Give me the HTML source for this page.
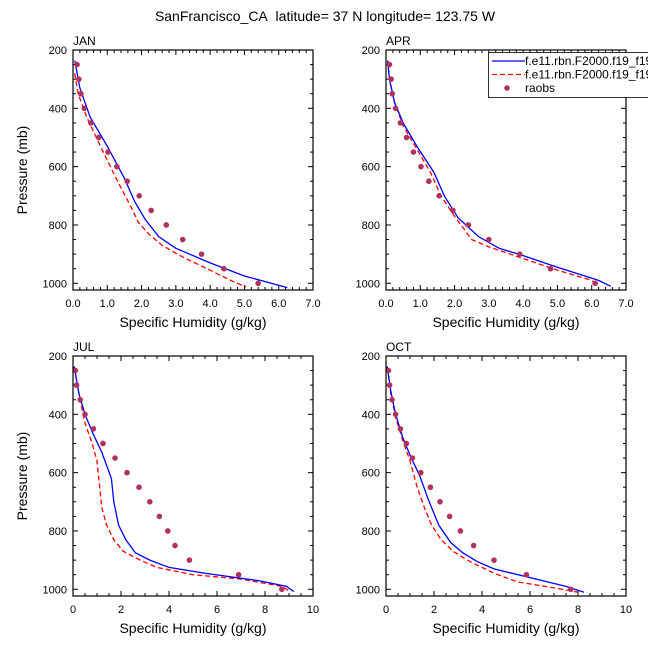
<!DOCTYPE html>
<html><head><meta charset="utf-8"><style>
html,body{margin:0;padding:0;background:#fff;}
svg{display:block;font-family:"Liberation Sans",sans-serif;}
</style></head><body>
<svg id="chart" width="648" height="649" viewBox="0 0 648 649" xmlns="http://www.w3.org/2000/svg">
<text x="325" y="21" font-size="14" text-anchor="middle">SanFrancisco_CA&#160; latitude= 37 N longitude= 123.75 W</text>
</svg>
<script>
const panelNames = ["JAN","APR","JUL","OCT"];
const raobP = [250,300,350,400,450,500,550,600,650,700,750,800,850,900,950,1000];
const janRaobQ = [0.12,0.17,0.23,0.33,0.52,0.75,1.02,1.28,1.58,1.93,2.28,2.72,3.2,3.75,4.4,5.4];
const aprRaobQ = [0.1,0.15,0.18,0.28,0.42,0.6,0.8,1.02,1.25,1.55,1.95,2.4,3.0,3.9,4.8,6.1];
const julRaobQ = [0.1,0.15,0.3,0.5,0.85,1.25,1.75,2.25,2.75,3.2,3.6,3.95,4.25,4.85,6.9,8.7];
const octRaobQ = [0.1,0.15,0.25,0.4,0.6,0.85,1.1,1.45,1.85,2.25,2.65,3.1,3.65,4.5,5.85,7.7];
const janBlueQ = [0.05,0.2,0.5,1.0,1.5,1.8,2.1,2.5,3.0,4.0,5.0,6.25];
const janBlueP = [236,330,430,530,640,720,780,840,880,930,975,1015];
const janRedQ = [0.05,0.15,0.4,0.8,1.3,1.7,1.9,2.2,2.6,3.2,4.0,4.6,5.05];
const janRedP = [280,350,430,530,650,740,790,830,870,910,955,990,1013];
const aprBlueQ = [0.05,0.1,0.25,0.5,0.9,1.4,1.7,2.1,2.7,3.3,4.0,5.0,6.2,6.55];
const aprBlueP = [236,300,380,450,530,620,700,775,840,880,905,945,990,1010];
const aprRedQ = [0.05,0.1,0.25,0.5,0.9,1.3,1.6,2.0,2.5,3.0,4.0,5.0,6.0,6.15];
const aprRedP = [236,300,380,460,540,620,700,770,850,875,915,955,990,1005];
const julBlueQ = [0.05,0.25,0.5,0.8,1.2,1.6,1.7,1.9,2.2,2.6,3.2,4.0,5.5,7.7,8.9,9.2];
const julBlueP = [236,330,400,460,530,620,700,780,830,875,900,925,945,970,990,1008];
const julRedQ = [0.05,0.25,0.5,0.8,1.0,1.1,1.2,1.4,1.7,2.1,2.8,3.5,5.0,7.0,8.7,9.0];
const julRedP = [236,330,430,500,560,640,720,780,830,870,900,925,950,965,990,1005];
const octBlueQ = [0.05,0.2,0.4,0.7,1.0,1.4,1.8,2.2,2.7,3.2,3.8,4.5,6.0,7.5,8.25];
const octBlueP = [236,320,400,480,540,610,700,780,840,875,905,930,960,990,1010];
const octRedQ = [0.05,0.2,0.4,0.7,1.0,1.3,1.6,1.9,2.3,2.8,3.5,4.5,5.5,7.0,8.0];
const octRedP = [236,330,410,490,560,650,720,780,830,870,905,945,975,995,1010];
const topXTicks = ["0.0","1.0","2.0","3.0","4.0","5.0","6.0","7.0"];
const botXTicks = ["0","2","4","6","8","10"];
const yTicks = [200,400,600,800,1000];

const NS="http://www.w3.org/2000/svg";
const svg=document.getElementById('chart');
function mk(tag,attrs,parent){const e=document.createElementNS(NS,tag);for(const k in attrs)e.setAttribute(k,attrs[k]);(parent||svg).appendChild(e);return e;}

const panels=[
 {x0:73,y0:50,xmax:7,minor:0.2,ticks:topXTicks,step:1,raob:janRaobQ,bq:janBlueQ,bp:janBlueP,rq:janRedQ,rp:janRedP,ylab:true},
 {x0:386,y0:50,xmax:7,minor:0.2,ticks:topXTicks,step:1,raob:aprRaobQ,bq:aprBlueQ,bp:aprBlueP,rq:aprRedQ,rp:aprRedP,ylab:false},
 {x0:73,y0:356,xmax:10,minor:0.5,ticks:botXTicks,step:2,raob:julRaobQ,bq:julBlueQ,bp:julBlueP,rq:julRedQ,rp:julRedP,ylab:true},
 {x0:386,y0:356,xmax:10,minor:0.5,ticks:botXTicks,step:2,raob:octRaobQ,bq:octBlueQ,bp:octBlueP,rq:octRedQ,rp:octRedP,ylab:false}
];
const W=240,H=240,PMIN=200,PMAX=1023;
panels.forEach((pn,i)=>{
  const g=mk('g',{});
  
  
  const xs=v=>pn.x0+v/pn.xmax*W;
  const ys=p=>pn.y0+(p-PMIN)/(PMAX-PMIN)*H;
  const clipId='clip'+i;
  const cp=mk('clipPath',{id:clipId},g);
  mk('rect',{x:pn.x0,y:pn.y0,width:W,height:H},cp);
  const tg=mk('g',{stroke:'#000','stroke-width':1},g);
  for(let v=0;v<=pn.xmax+1e-6;v+=pn.minor){
    const maj=Math.abs(v/pn.step-Math.round(v/pn.step))<1e-6;
    const L=maj?5:3,x=xs(v);
    mk('line',{x1:x,y1:pn.y0+H,x2:x,y2:pn.y0+H-L},tg);
    mk('line',{x1:x,y1:pn.y0,x2:x,y2:pn.y0+L},tg);
  }
  for(let p=200;p<=1000;p+=50){
    const maj=p%200===0,L=maj?5:3,y=ys(p);
    mk('line',{x1:pn.x0,y1:y,x2:pn.x0+L,y2:y},tg);
    mk('line',{x1:pn.x0+W,y1:y,x2:pn.x0+W-L,y2:y},tg);
  }
  pn.ticks.forEach((t,k)=>{
    const e=mk('text',{x:xs(k*pn.step),y:pn.y0+H+17,'font-size':11,'text-anchor':'middle'},g);
    e.textContent=t;
    
    
  });
  yTicks.forEach(p=>{
    const e=mk('text',{x:pn.x0-6,y:ys(p)+4,'font-size':11,'text-anchor':'end'},g);
    e.textContent=p;
    
    
  });
  const lab=mk('text',{x:pn.x0,y:pn.y0-5,'font-size':12},g);
  lab.textContent=panelNames[i];
  
  
  const xt=mk('text',{x:pn.x0+W/2,y:pn.y0+H+37,'font-size':14,'text-anchor':'middle'},g);
  xt.textContent='Specific Humidity (g/kg)';
  
  
  if(pn.ylab){
    const cy=pn.y0+H/2;
    const yt=mk('text',{x:0,y:0,'font-size':14,'text-anchor':'middle',transform:`translate(27,${cy}) rotate(-90)`},g);
    yt.textContent='Pressure (mb)';
    
    
  }
  const dg=mk('g',{'clip-path':`url(#${clipId})`},g);
  const red=mk('polyline',{points:pn.rq.map((q,k)=>xs(q)+','+ys(pn.rp[k])).join(' '),fill:'none',stroke:'#ff0000','stroke-width':1.3,'stroke-dasharray':'5,3'},dg);
  
  
  const blue=mk('polyline',{points:pn.bq.map((q,k)=>xs(q)+','+ys(pn.bp[k])).join(' '),fill:'none',stroke:'#0000ff','stroke-width':1.3},dg);
  
  
  pn.raob.forEach((q,k)=>{
    const c=mk('circle',{cx:xs(q),cy:ys(raobP[k]),r:2.8,fill:'#b03060'},dg);
    
    
  });
  const fr=mk('rect',{x:pn.x0,y:pn.y0,width:W,height:H,fill:'none',stroke:'#000','stroke-width':1.2},g);
  
  
});
const lg=mk('g',{});


mk('rect',{x:488.5,y:52.5,width:170,height:45,fill:'#fff',stroke:'#000','stroke-width':0.8},lg);
const le=[{c:'#0000ff',d:'',t:'f.e11.rbn.F2000.f19_f19'},{c:'#ff0000',d:'5,3',t:'f.e11.rbn.F2000.f19_f19'}];
le.forEach((o,k)=>{
  const y=61+k*13.5;
  const e=mk('g',{},lg);
  
  
  mk('line',{x1:492,y1:y,x2:525,y2:y,stroke:o.c,'stroke-width':1.3,'stroke-dasharray':o.d||'none'},e);
  const t=mk('text',{x:525,y:y+4,'font-size':12},e);t.textContent=o.t;
});
const e3=mk('g',{},lg);


mk('circle',{cx:507,cy:88,r:2.8,fill:'#b03060'},e3);
const t3=mk('text',{x:525,y:92,'font-size':12},e3);t3.textContent='raobs';
</script>
</body></html>
